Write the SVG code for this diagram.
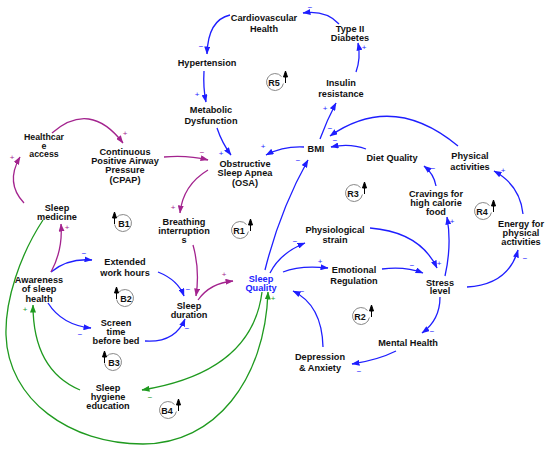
<svg xmlns="http://www.w3.org/2000/svg" width="550" height="449" viewBox="0 0 550 449">
<defs>
<style>
text{font-family:"Liberation Sans",Arial,sans-serif;font-weight:bold;font-size:9.2px;fill:#111;text-anchor:middle}
.sq{fill:#1e1eff}
.e{fill:none;stroke-width:1.3}
.b{stroke:#1e1eff}
.m{stroke:#a3238e}
.g{stroke:#1f9a1f}
.sg{font-size:8px;font-weight:normal}
.sb{fill:#1e1eff}
.sm{fill:#a3238e}
.sgr{fill:#1f9a1f}
.loop{fill:none;stroke:#888;stroke-width:1}
.la{fill:#000;stroke:#000;stroke-width:1}
.lt{font-size:9px}
.hc{font-size:8.8px}
</style>
<marker id="ab" viewBox="0 0 8 6" refX="7.5" refY="3" markerWidth="8" markerHeight="6" markerUnits="userSpaceOnUse" orient="auto"><path d="M0,0 L8,3 L0,6 z" fill="#1e1eff"/></marker>
<marker id="am" viewBox="0 0 8 6" refX="7.5" refY="3" markerWidth="8" markerHeight="6" markerUnits="userSpaceOnUse" orient="auto"><path d="M0,0 L8,3 L0,6 z" fill="#a3238e"/></marker>
<marker id="ag" viewBox="0 0 8 6" refX="7.5" refY="3" markerWidth="8" markerHeight="6" markerUnits="userSpaceOnUse" orient="auto"><path d="M0,0 L8,3 L0,6 z" fill="#1f9a1f"/></marker>
</defs>
<rect width="550" height="449" fill="#fff"/>

<g id="connectors">
<path class="e b" marker-end="url(#ab)" d="M339,24 Q326,10 303,13"/>
<path class="e b" marker-end="url(#ab)" d="M230,15 Q208,20 207,54"/>
<path class="e b" marker-end="url(#ab)" d="M204,71 Q203,88 206,102"/>
<path class="e b" marker-end="url(#ab)" d="M217,128 Q222,143 231,155"/>
<path class="e b" marker-end="url(#ab)" d="M304,147 Q283,146 266,155"/>
<path class="e b" marker-end="url(#ab)" d="M320,139 Q327,120 336,103"/>
<path class="e b" marker-end="url(#ab)" d="M356,72 Q361,58 358,43"/>
<path class="e b" marker-end="url(#ab)" d="M458,146 Q393,92 330,136"/>
<path class="e b" marker-end="url(#ab)" d="M366,149 Q350,143 331,147"/>
<path class="e b" marker-end="url(#ab)" d="M436,186 Q434,174 424,166"/>
<path class="e b" marker-end="url(#ab)" d="M445,276 Q452,245 447,217"/>
<path class="e b" marker-end="url(#ab)" d="M523,214 Q520,185 494,171"/>
<path class="e b" marker-end="url(#ab)" d="M467,287 Q508,285 518,250"/>
<path class="e b" marker-end="url(#ab)" d="M370,228 Q420,232 437,268"/>
<path class="e b" marker-end="url(#ab)" d="M382,269 Q405,266 423,273"/>
<path class="e b" marker-end="url(#ab)" d="M440,297 Q440,320 422,333"/>
<path class="e b" marker-end="url(#ab)" d="M396,351 Q378,360 352,364"/>
<path class="e b" marker-end="url(#ab)" d="M323,347 Q322,305 293,291"/>
<path class="e b" marker-end="url(#ab)" d="M265,270 Q280,210 308,160"/>
<path class="e b" marker-end="url(#ab)" d="M270,273 Q280,253 305,243"/>
<path class="e b" marker-end="url(#ab)" d="M283,272 Q300,265 328,268"/>
<path class="e b" marker-end="url(#ab)" d="M158,272 Q178,280 184,296"/>
<path class="e b" marker-end="url(#ab)" d="M51,272 Q68,258 92,260"/>
<path class="e b" marker-end="url(#ab)" d="M48,303 Q62,325 91,328"/>
<path class="e b" marker-end="url(#ab)" d="M145,341 Q175,343 185,319"/>
<path class="e m" marker-end="url(#am)" d="M24,203 Q5,183 20,157"/>
<path class="e m" marker-end="url(#am)" d="M52,133 Q90,100 123,143"/>
<path class="e m" marker-end="url(#am)" d="M164,157 Q188,155 208,160"/>
<path class="e m" marker-end="url(#am)" d="M208,170 Q183,185 180,213"/>
<path class="e m" marker-end="url(#am)" d="M193,245 Q200,270 196,296"/>
<path class="e m" marker-end="url(#am)" d="M198,300 Q210,283 233,281"/>
<path class="e m" marker-end="url(#am)" d="M51,272 Q63,250 61,224"/>
<path class="e g" marker-end="url(#ag)" d="M43,220 C20,255 5,300 6,335 C8,400 70,444 143,444 C215,444 265,380 268,292"/>
<path class="e g" marker-end="url(#ag)" d="M262,292 Q252,372 142,390"/>
<path class="e g" marker-end="url(#ag)" d="M80,390 Q33,370 33,305"/>

<text class="sg sb" x="310" y="10">−</text>
<text class="sg sb" x="201" y="49">−</text>
<text class="sg sb" x="197" y="97">+</text>
<text class="sg sb" x="221" y="156">+</text>
<text class="sg sb" x="263" y="149">+</text>
<text class="sg sb" x="325" y="111">+</text>
<text class="sg sb" x="364" y="50">+</text>
<text class="sg sb" x="330" y="131">−</text>
<text class="sg sb" x="335" y="143">−</text>
<text class="sg sb" x="433" y="171">−</text>
<text class="sg sb" x="452" y="224">+</text>
<text class="sg sb" x="503" y="173">+</text>
<text class="sg sb" x="525" y="261">−</text>
<text class="sg sb" x="439" y="266">+</text>
<text class="sg sb" x="412" y="268">−</text>
<text class="sg sb" x="432" y="334">−</text>
<text class="sg sb" x="359" y="374">−</text>
<text class="sg sb" x="302" y="294">−</text>
<text class="sg sb" x="298" y="163">−</text>
<text class="sg sb" x="295" y="244">−</text>
<text class="sg sb" x="320" y="264">+</text>
<text class="sg sb" x="188" y="292">−</text>
<text class="sg sb" x="84" y="256">−</text>
<text class="sg sb" x="80" y="337">−</text>
<text class="sg sb" x="187" y="331">−</text>
<text class="sg sm" x="12" y="160">+</text>
<text class="sg sm" x="125" y="136">+</text>
<text class="sg sm" x="202" y="155">−</text>
<text class="sg sm" x="173" y="210">+</text>
<text class="sg sm" x="224" y="277">+</text>
<text class="sg sm" x="67" y="230">+</text>
<text class="sg sgr" x="273" y="301">+</text>
<text class="sg sgr" x="150" y="400">−</text>
<text class="sg sgr" x="25" y="312">+</text>
</g>

<g id="loops">
<g id="loop-R5"><path class="loop" d="M281.5,76.5 A8.5,8.5 0 1 0 283.4,83.5"/><path class="la" d="M283.5,77 L285.5,71 L287.5,77 z M285.5,77 V83"/><text class="lt" x="274" y="85.5">R5</text></g>
<g id="loop-R1"><path class="loop" d="M246.5,224.5 A8.5,8.5 0 1 0 248.4,231.5"/><path class="la" d="M248.5,225 L250.5,219 L252.5,225 z M250.5,225 V231"/><text class="lt" x="239" y="233.5">R1</text></g>
<g id="loop-R3"><path class="loop" d="M360.5,187.5 A8.5,8.5 0 1 0 362.4,194.5"/><path class="la" d="M362.5,188 L364.5,182 L366.5,188 z M364.5,188 V194"/><text class="lt" x="353" y="196.5">R3</text></g>
<g id="loop-R4"><path class="loop" d="M489.5,205.5 A8.5,8.5 0 1 0 491.4,212.5"/><path class="la" d="M491.5,206 L493.5,200 L495.5,206 z M493.5,206 V212"/><text class="lt" x="482" y="214.5">R4</text></g>
<g id="loop-R2"><path class="loop" d="M367.5,310.5 A8.5,8.5 0 1 0 369.4,317.5"/><path class="la" d="M369.5,311 L371.5,305 L373.5,311 z M371.5,311 V317"/><text class="lt" x="360" y="319.5">R2</text></g>
<g id="loop-B4"><path class="loop" d="M174.5,404.5 A8.5,8.5 0 1 0 176.4,411.5"/><path class="la" d="M176.5,405 L178.5,399 L180.5,405 z M178.5,405 V411"/><text class="lt" x="167" y="413.5">B4</text></g>
<g id="loop-B1"><path class="loop" d="M116.5,217.5 A8.5,8.5 0 1 1 114.6,224.5"/><path class="la" d="M112.5,218 L114.5,212 L116.5,218 z M114.5,218 V224"/><text class="lt" x="124" y="226.5">B1</text></g>
<g id="loop-B2"><path class="loop" d="M118.5,292.5 A8.5,8.5 0 1 1 116.6,299.5"/><path class="la" d="M114.5,293 L116.5,287 L118.5,293 z M116.5,293 V299"/><text class="lt" x="126" y="301.5">B2</text></g>
<g id="loop-B3"><path class="loop" d="M106.5,356.5 A8.5,8.5 0 1 1 104.6,363.5"/><path class="la" d="M102.5,357 L104.5,351 L106.5,357 z M104.5,357 V363"/><text class="lt" x="114" y="365.5">B3</text></g>
</g>

<g id="nodes">
<g id="cardiovascular-health"><text x="264" y="20.5">Cardiovascular</text><text x="264" y="31.5">Health</text></g>
<g id="type2-diabetes"><text x="350" y="32">Type II</text><text x="350" y="40.5">Diabetes</text></g>
<g id="hypertension"><text x="207" y="65.5">Hypertension</text></g>
<g id="metabolic-dysfunction"><text x="211" y="112.5">Metabolic</text><text x="211" y="123.5">Dysfunction</text></g>
<g id="insulin-resistance"><text x="341" y="85.5">Insulin</text><text x="341" y="96.5">resistance</text></g>
<g id="bmi"><text x="316" y="151.5">BMI</text></g>
<g id="healthcare-access"><text class="hc" x="44" y="140">Healthcar</text><text class="hc" x="44" y="148.7">e</text><text class="hc" x="44" y="157.4">access</text></g>
<g id="cpap"><text x="125" y="154.5">Continuous</text><text x="125" y="164">Positive Airway</text><text x="125" y="173">Pressure</text><text x="125" y="182.5">(CPAP)</text></g>
<g id="osa"><text x="245" y="166.5">Obstructive</text><text x="245" y="176">Sleep Apnea</text><text x="245" y="185.5">(OSA)</text></g>
<g id="diet-quality"><text x="392" y="160.5">Diet Quality</text></g>
<g id="physical-activities"><text x="470" y="158.5">Physical</text><text x="470" y="170">activities</text></g>
<g id="cravings"><text x="436" y="196.5">Cravings for</text><text x="436" y="205.5">high calorie</text><text x="436" y="214.5">food</text></g>
<g id="energy"><text x="521" y="226.5">Energy for</text><text x="521" y="235.5">physical</text><text x="521" y="244.5">activities</text></g>
<g id="physiological-strain"><text x="335" y="232.5">Physiological</text><text x="335" y="242.5">strain</text></g>
<g id="emotional-regulation"><text x="354" y="272.5">Emotional</text><text x="354" y="283.5">Regulation</text></g>
<g id="stress-level"><text x="440" y="285.5">Stress</text><text x="440" y="294">level</text></g>
<g id="mental-health"><text x="408" y="345.5">Mental Health</text></g>
<g id="depression-anxiety"><text x="320" y="359.5">Depression</text><text x="320" y="370.5">&amp; Anxiety</text></g>
<g id="sleep-quality"><text class="sq" x="261" y="281.5">Sleep</text><text class="sq" x="261" y="290.5">Quality</text></g>
<g id="sleep-duration"><text x="189" y="309">Sleep</text><text x="189" y="317.5">duration</text></g>
<g id="breathing-interruptions"><text x="184" y="224.5">Breathing</text><text x="184" y="233.5">interruption</text><text x="184" y="242.5">s</text></g>
<g id="sleep-medicine"><text x="57" y="210.5">Sleep</text><text x="57" y="219.5">medicine</text></g>
<g id="extended-work-hours"><text x="125" y="264.5">Extended</text><text x="125" y="275.5">work hours</text></g>
<g id="awareness"><text x="39" y="282.5">Awareness</text><text x="39" y="292">of sleep</text><text x="39" y="301.5">health</text></g>
<g id="screen-time"><text x="116" y="325.5">Screen</text><text x="116" y="334.5">time</text><text x="116" y="343.5">before bed</text></g>
<g id="sleep-hygiene"><text x="108" y="390.5">Sleep</text><text x="108" y="400">hygiene</text><text x="108" y="408.5">education</text></g>
</g>
</svg>
